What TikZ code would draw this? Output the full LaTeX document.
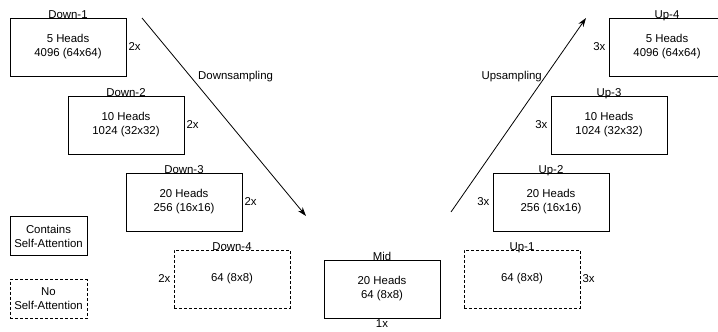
\documentclass[tikz,border=0pt]{standalone}
\usepackage{fontspec}
\setmainfont{Liberation Sans}
\usetikzlibrary{arrows.meta}
\begin{document}
\begin{tikzpicture}[x=1pt,y=-1pt,
  blk/.style={draw,line width=0.9pt,minimum width=116pt,minimum height=58pt,inner sep=0pt,align=center,font=\fontsize{11.4}{14}\selectfont},
  noblk/.style={blk,dashed,dash pattern=on 3pt off 2pt},
  legend/.style={blk,minimum width=77pt,minimum height=39pt},
  ttl/.style={anchor=base,inner sep=0pt,font=\fontsize{11.4}{12}\selectfont},
  rep/.style={inner sep=0pt,font=\fontsize{11.4}{12}\selectfont},
  arr/.style={line width=0.8pt,-{Stealth[length=9pt,width=6pt]}}]
\useasboundingbox (0,0) rectangle (718,332);
% Down blocks
\node[blk] (d1) at (68,47) {5 Heads\\4096 (64x64)};
\node[blk] (d2) at (126,125) {10 Heads\\1024 (32x32)};
\node[blk] (d3) at (184,202) {20 Heads\\256 (16x16)};
\node[noblk] (d4) at (232,279) {64 (8x8)};
\node[blk] (mid) at (382,289) {20 Heads\\64 (8x8)};
\node[noblk] (u1) at (522,279) {64 (8x8)};
\node[blk] (u2) at (551,202) {20 Heads\\256 (16x16)};
\node[blk] (u3) at (609,125) {10 Heads\\1024 (32x32)};
\node[blk] (u4) at (667,47) {5 Heads\\4096 (64x64)};
% legend
\node[legend] (lc) at (48.5,236) {Contains\\Self-Attention};
\node[legend,dashed,dash pattern=on 3pt off 2pt] (ln) at (48.5,299) {No\\Self-Attention};
% titles
\node[ttl] (t1) at ([yshift=-1pt]d1.north) {Down-1};
\node[ttl] (t2) at ([yshift=-1pt]d2.north) {Down-2};
\node[ttl] (t3) at ([yshift=-1pt]d3.north) {Down-3};
\node[ttl] (t4) at ([yshift=-1pt]d4.north) {Down-4};
\node[ttl] (tm) at ([yshift=-1pt]mid.north) {Mid};
\node[ttl] (tu1) at ([yshift=-1pt]u1.north) {Up-1};
\node[ttl] (tu2) at ([yshift=-1pt]u2.north) {Up-2};
\node[ttl] (tu3) at ([yshift=-1pt]u3.north) {Up-3};
\node[ttl] (tu4) at ([yshift=-1pt]u4.north) {Up-4};
% repetition counts
\node[rep,anchor=west] (r1) at ([xshift=2pt]d1.east) {2x};
\node[rep,anchor=west] (r2) at ([xshift=2pt]d2.east) {2x};
\node[rep,anchor=west] (r3) at ([xshift=2pt]d3.east) {2x};
\node[rep,anchor=east] (r4) at ([xshift=-3pt]d4.west) {2x};
\node[rep,anchor=north] (rm) at ([yshift=-1pt]mid.south) {1x};
\node[rep,anchor=west] (ru1) at ([xshift=2pt]u1.east) {3x};
\node[rep,anchor=east] (ru2) at ([xshift=-3pt]u2.west) {3x};
\node[rep,anchor=east] (ru3) at ([xshift=-3pt]u3.west) {3x};
\node[rep,anchor=east] (ru4) at ([xshift=-3pt]u4.west) {3x};
% arrows
\coordinate (ds) at (142,18);
\coordinate (de) at (306,216);
\coordinate (us) at (451,212);
\coordinate (ue) at (586,18);
\draw[arr] (ds) -- (de);
\draw[arr] (us) -- (ue);
\node[rep,anchor=west] (dl) at (198,77) {Downsampling};
\node[rep,anchor=east] (ul) at (542,77) {Upsampling};
\end{tikzpicture}
\end{document}
